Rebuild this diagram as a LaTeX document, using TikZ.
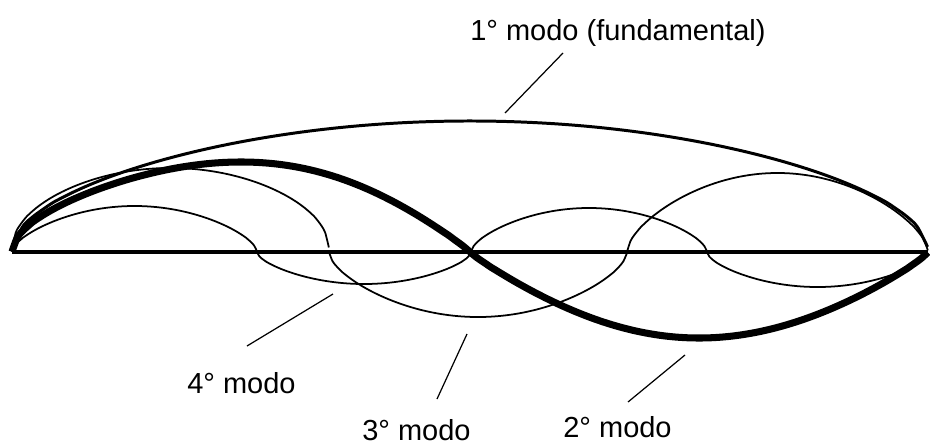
\documentclass[tikz,border=0pt]{standalone}
\usepackage{fontspec}
\setmainfont{Liberation Sans}
\definecolor{cink}{HTML}{000000}
\tikzset{
  every picture/.style={x=0.02cm, y=0.02cm, draw=cink},
  axisline/.style={line width=2.3pt},
  wave/.style={line width=#1, smooth},
  wave/.default=1pt,
  leader/.style={line width=0.7pt},
  tag/.style={font=\fontsize{16.5}{20}\selectfont, anchor=base west, inner sep=0pt},
}
\begin{document}
\begin{tikzpicture}
  \useasboundingbox (0,-192) rectangle (930,252);
  % lobes: start/end/amplitude/power left/power right/width
  \foreach \a/\b/\A/\p/\q/\w in {
      12/257/46/0.6/0.6/1pt, 257/471/-32/0.6/0.6/1pt, 471/707/44/0.6/0.6/1pt, 707/928/-35/0.6/0.6/1pt,
      12/329/84/0.45/0.45/1pt, 329/627/-65/0.6/0.6/1pt, 627/928/79/0.6/0.6/1pt,
      12/928/131/0.5/0.5/1.7pt,
      12/470/90/0.55/0.9/4pt, 470/928/-86/0.9/0.85/4pt}
    \draw[wave=\w] plot[domain=0:1, samples=90]
      ({\a+(\b-\a)*\x}, {\A*pow(abs(sin(180*\x))+0.00001,\p+(\q-\p)*\x)});
  \draw[axisline] (12,0) -- (928,0);
  % labels
  \node[tag] (lab1) at (470,212) {1° modo (fundamental)};
  \node[tag] (lab4) at (187,-141) {4° modo};
  \node[tag] (lab3) at (362,-188) {3° modo};
  \node[tag] (lab2) at (563,-185) {2° modo};
  \coordinate (tip1) at (505,139);
  \coordinate (end1) at (563,199);
  \coordinate (tip4) at (333,-42);
  \coordinate (end4) at (247,-94);
  \coordinate (tip3) at (467,-82);
  \coordinate (end3) at (437,-147);
  \coordinate (tip2) at (685,-103);
  \coordinate (end2) at (628,-150);
  \foreach \n in {1,2,3,4} \draw[leader] (tip\n) -- (end\n);
\end{tikzpicture}
\end{document}
